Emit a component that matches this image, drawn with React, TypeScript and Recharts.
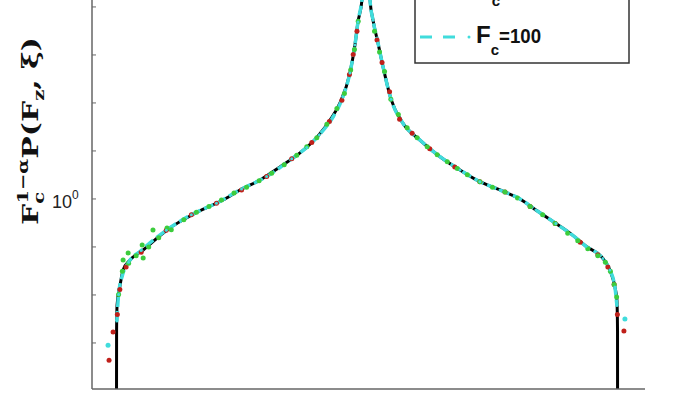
import { ComposedChart, Line, Scatter, XAxis, YAxis } from "recharts";

// theory curve (black)
const theoryX = [-1.0, -0.998, -0.996, -0.984, -0.972, -0.944, -0.892, -0.797, -0.677, -0.574, -0.506, -0.426, -0.347, -0.267, -0.199, -0.147, -0.108, -0.068, -0.048, -0.036, -0.02, 0, 0.012, 0.024, 0.044, 0.064, 0.096, 0.143, 0.211, 0.291, 0.371, 0.45, 0.53, 0.61, 0.673, 0.753, 0.813, 0.873, 0.94, 0.968, 0.988, 0.996, 0.9985, 1.0];
const theoryY = [0.001, 0.284, 0.362, 0.438, 0.506, 0.557, 0.613, 0.743, 0.88, 0.99, 1.09, 1.2, 1.36, 1.555, 1.81, 2.13, 2.51, 3.35, 4.38, 5.46, 6.75, 20, 6.75, 5.56, 4.46, 3.55, 2.6, 2.07, 1.76, 1.5, 1.32, 1.18, 1.09, 1.0, 0.9, 0.79, 0.715, 0.635, 0.565, 0.506, 0.43, 0.38, 0.284, 0.001];

// F_c = 100 (cyan dashed)
const cyanX = [-0.997, -0.99, -0.975, -0.95, -0.9, -0.8, -0.7, -0.6, -0.5, -0.4, -0.3, -0.24, -0.19, -0.135, -0.096, -0.068, -0.048, -0.036, -0.02, -0.008, 0, 0.008, 0.012, 0.024, 0.044, 0.064, 0.096, 0.143, 0.211, 0.291, 0.371, 0.45, 0.53, 0.61, 0.673, 0.753, 0.813, 0.873, 0.94, 0.968, 0.988, 0.996];
const cyanY = [0.31, 0.4, 0.48, 0.545, 0.61, 0.74, 0.86, 0.96, 1.1, 1.24, 1.47, 1.64, 1.85, 2.2, 2.66, 3.35, 4.38, 5.46, 6.75, 9, 20, 9, 6.75, 5.56, 4.46, 3.55, 2.6, 2.07, 1.76, 1.5, 1.32, 1.18, 1.09, 1.0, 0.9, 0.79, 0.715, 0.635, 0.565, 0.506, 0.43, 0.36];
const cyanStrayX = [-1.032, 1.028];
const cyanStrayY = [0.246, 0.316];

// green markers
const greenX = [-0.99, -0.975, -0.972, -0.952, -0.95, -0.92, -0.896, -0.892, -0.87, -0.853, -0.83, -0.797, -0.78, -0.73, -0.68, -0.63, -0.58, -0.53, -0.48, -0.43, -0.38, -0.33, -0.28, -0.24, -0.2, -0.16, -0.12, -0.09, -0.065, -0.05, -0.035, 0.03, 0.05, 0.07, 0.095, 0.125, 0.16, 0.2, 0.24, 0.28, 0.32, 0.36, 0.4, 0.45, 0.5, 0.55, 0.6, 0.65, 0.7, 0.75, 0.8, 0.84, 0.88, 0.92, 0.95, 0.97, 0.985, 0.995];
const greenY = [0.4, 0.5, 0.557, 0.596, 0.54, 0.58, 0.643, 0.567, 0.63, 0.743, 0.69, 0.757, 0.745, 0.82, 0.88, 0.93, 0.99, 1.06, 1.12, 1.19, 1.28, 1.39, 1.52, 1.65, 1.8, 2.05, 2.38, 2.75, 3.45, 4.2, 5.5, 5.0, 4.1, 3.4, 2.6, 2.25, 1.98, 1.8, 1.65, 1.53, 1.43, 1.34, 1.26, 1.18, 1.12, 1.07, 1.01, 0.93, 0.86, 0.79, 0.72, 0.67, 0.62, 0.58, 0.545, 0.5, 0.44, 0.39];

// red markers
const redX = [-1.028, -1.012, -0.995, -0.985, -0.96, -0.9, -0.8, -0.7, -0.6, -0.5, -0.4, -0.3, -0.22, -0.15, -0.1, -0.07, -0.055, -0.04, 0.04, 0.06, 0.09, 0.13, 0.18, 0.25, 0.35, 0.45, 0.55, 0.65, 0.75, 0.85, 0.92, 0.96, 0.985, 0.998, 1.024];
const redY = [0.213, 0.279, 0.33, 0.42, 0.52, 0.6, 0.74, 0.86, 0.96, 1.09, 1.24, 1.47, 1.72, 2.1, 2.58, 3.3, 4.0, 5.0, 4.6, 3.7, 2.8, 2.15, 1.88, 1.62, 1.36, 1.18, 1.07, 0.93, 0.79, 0.66, 0.585, 0.52, 0.44, 0.33, 0.282];

const xTicks = [-1, -0.5, 0, 0.5, 1];
const yTicks = [0.2512, 0.3981, 0.631, 1, 1.585, 2.512, 3.981, 6.31];

const pts = (xs: number[], ys: number[]) => xs.map((x, i) => ({ x, y: ys[i] }));

const YTick = (props: any) => {
  const { y, payload } = props;
  if (Math.abs(payload.value - 1) > 1e-6) return <g />;
  return (
    <text x={52} y={y + 9} fontFamily="Liberation Sans, Arial" fontSize={18} fill="#222">
      10
      <tspan dy={-9} fontSize={12}>0</tspan>
    </text>
  );
};

const dotShape = (color: string, r: number) => (p: any) => (
  <circle cx={p.cx} cy={p.cy} r={r} fill={color} />
);

export default function App() {
  const axisColor = "#666";
  const cyan = "#40dcdc";
  return (
    <div style={{ position: "absolute", left: 0, top: 0, width: 700, height: 395, overflow: "hidden", background: "#fff" }}>
      <ComposedChart width={700} height={395} margin={{ top: 0, right: 55, bottom: 0, left: 0 }}>
        <XAxis
          type="number"
          dataKey="x"
          domain={[-1.096, 1.108]}
          allowDataOverflow
          ticks={xTicks}
          height={6}
          tickSize={-4}
          tick={false}
          axisLine={{ stroke: axisColor, strokeWidth: 1.5 }}
          tickLine={{ stroke: axisColor }}
        />
        <YAxis
          type="number"
          scale="log"
          domain={[0.1615, 6.745]}
          allowDataOverflow
          ticks={yTicks}
          width={92}
          tickSize={-4}
          tick={YTick}
          axisLine={{ stroke: axisColor, strokeWidth: 1.5 }}
          tickLine={{ stroke: axisColor }}
        />
        <Line type="monotone" data={pts(theoryX, theoryY)} dataKey="y" stroke="#000" strokeWidth={3} dot={false} isAnimationActive={false} />
        <Scatter data={pts(redX, redY)} dataKey="y" shape={dotShape("#c0201a", 2.5)} isAnimationActive={false} />
        <Scatter data={pts(greenX, greenY)} dataKey="y" shape={dotShape("#3ccc3c", 2.5)} isAnimationActive={false} />
        <Line
          type="monotone"
          data={pts(cyanX, cyanY)}
          dataKey="y"
          stroke={cyan}
          strokeWidth={3.5}
          strokeDasharray="10 4"
          dot={{ r: 1.5, fill: cyan, stroke: "none" }}
          isAnimationActive={false}
        />
        <Scatter data={pts(cyanStrayX, cyanStrayY)} dataKey="y" shape={dotShape(cyan, 2.5)} isAnimationActive={false} />
      </ComposedChart>
      <svg width={700} height={395} style={{ position: "absolute", left: 0, top: 0, pointerEvents: "none" }}>
        <g transform="translate(38,131) rotate(-90) scale(1.3,1)">
          <text textAnchor="middle" fontFamily="DejaVu Serif" fontWeight="bold" fontSize={23} fill="#111">
            F<tspan dy={6} fontSize={15}>c</tspan>
            <tspan dx={-9} dy={-16} fontSize={15}>1−α</tspan>
            <tspan dy={10}>P(F</tspan>
            <tspan dy={6} fontSize={15}>z</tspan>
            <tspan dy={-6}>, ξ)</tspan>
          </text>
        </g>
        <rect x={415} y={-60} width={214} height={123} fill="#fff" stroke="#333" strokeWidth={1.5} />
        <text x={477} y={-6} fontFamily="Liberation Sans, Arial" fontWeight="bold" fontSize={24} fill="#111">
          F<tspan dy={12} fontSize={15}>c</tspan>
          <tspan dy={-12} fontSize={21}>=50</tspan>
        </text>
        <line x1={420} y1={37} x2={460} y2={37} stroke={cyan} strokeWidth={3} strokeDasharray="12 11" />
        <circle cx={469} cy={37} r={1.5} fill={cyan} />
        <text x={476} y={43} fontFamily="Liberation Sans, Arial" fontWeight="bold" fontSize={24} fill="#111">
          F<tspan dy={12} fontSize={15}>c</tspan>
          <tspan dy={-12} fontSize={21} textLength={42} lengthAdjust="spacingAndGlyphs">=100</tspan>
        </text>
      </svg>
    </div>
  );
}
